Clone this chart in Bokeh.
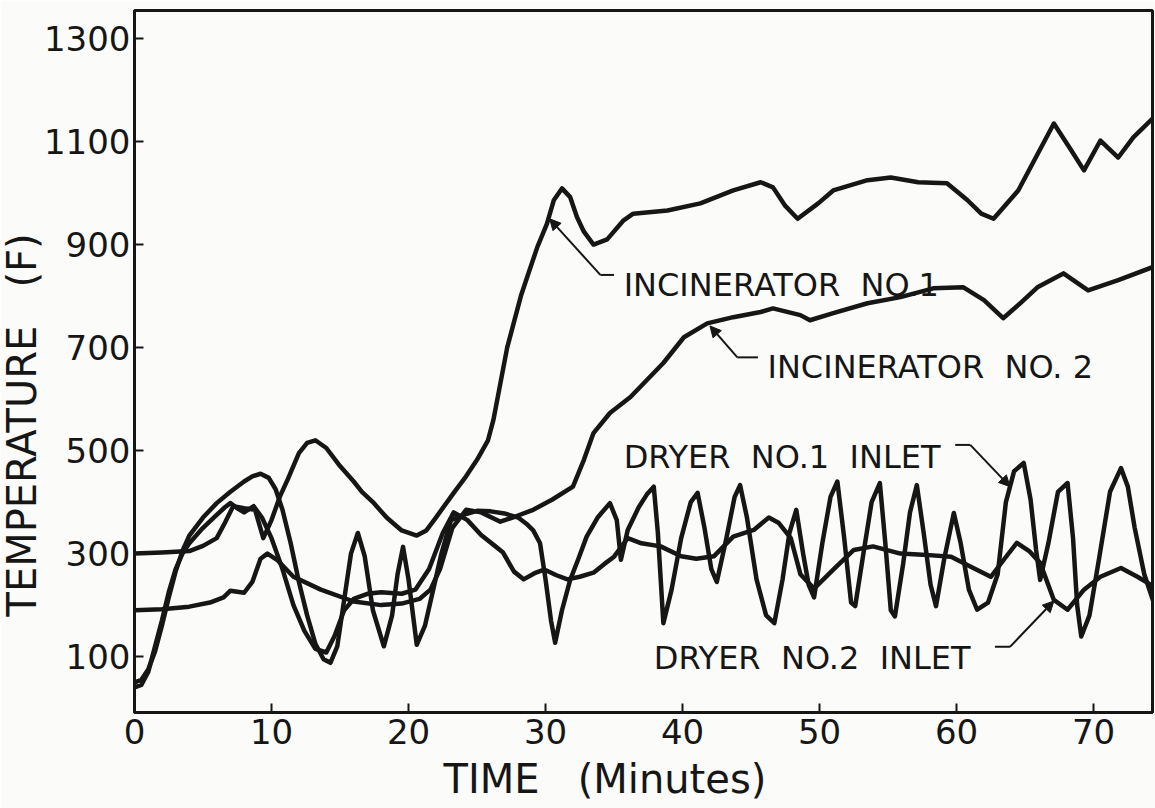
from bokeh.plotting import figure
from bokeh.models import Range1d, FixedTicker, Label, Arrow, NormalHead, Title
from bokeh.embed import file_html
from bokeh.resources import INLINE

# ---------------- data ----------------
x_ticks = [0, 10, 20, 30, 40, 50, 60, 70]
y_ticks = [100, 300, 500, 700, 900, 1100, 1300]

inc1_min = [0, 2, 4, 5, 6, 6.6, 7.2, 8, 8.8, 9.4, 10, 10.6, 11.2, 12, 12.6, 13.2, 14, 15, 16, 16.6,
            17.4, 18.4, 19.5, 20.6, 21.3, 22, 23.3, 24.2, 25, 25.8, 26.2, 26.7, 27.2, 27.7, 28.2, 28.7,
            29.4, 30.1, 30.6, 31.2, 31.8, 32.3, 32.8, 33.5, 34.5, 35.7, 36.4, 38.9, 41.3, 43.7, 45.7,
            46.6, 47.5, 48.4, 49.9, 51, 53.5, 55.2, 57.2, 59.3, 60.8, 61.8, 62.7, 64.5, 65.8, 67.1,
            68.2, 69.3, 70.5, 71.8, 72.9, 74.4]
inc1_temp = [300, 302, 305, 315, 330, 360, 392, 388, 385, 330, 365, 410, 445, 495, 515, 520, 505, 470,
             440, 420, 400, 370, 345, 335, 345, 370, 418, 450, 482, 520, 560, 630, 700, 750, 800, 840,
             895, 940, 986, 1009, 992, 953, 925, 900, 910, 947, 960, 966, 980, 1005, 1021, 1011, 975,
             950, 980, 1005, 1025, 1030, 1021, 1019, 986, 960, 950, 1005, 1070, 1135, 1090, 1044,
             1102, 1069, 1108, 1147]

inc2_min = [0, 2, 4, 5.5, 6.5, 7, 8, 8.6, 9.2, 9.7, 10.4, 11.6, 13.6, 16, 18, 19.5, 20.8, 21.6, 22.3,
            23.2, 24.2, 25.3, 26.7, 27.8, 29.1, 30.5, 32, 32.8, 33.5, 34.7, 36.2, 37.4, 38.6, 40.1,
            41.8, 43.7, 45.7, 46.6, 48.6, 49.3, 51, 53.5, 55.9, 58.3, 60.5, 62, 63.4, 64.6, 65.9,
            67.8, 69.6, 71.8, 74.3]
inc2_temp = [190, 192, 197, 205, 215, 228, 224, 245, 290, 300, 288, 255, 230, 207, 200, 203, 212, 230,
             270, 350, 385, 380, 362, 372, 385, 405, 430, 482, 534, 573, 604, 637, 670, 720, 747, 759,
             769, 776, 763, 753, 767, 786, 798, 815, 817, 792, 757, 785, 817, 844, 811, 831, 856]

dry1_min = [0, 0.5, 1, 1.5, 2, 2.5, 3, 3.5, 4, 5,
            6, 7, 8, 8.6, 9.2, 9.8, 10.3, 10.8, 11.4, 12,
            12.6, 13.2, 13.8, 14.3, 14.8, 15.3, 15.8, 16.3, 16.8, 17.4,
            18.2, 18.8, 19.2, 19.6, 20, 20.6, 21.2, 21.8, 22.4, 23.1,
            24, 25, 26, 27, 28, 28.6, 29.1, 29.6, 30, 30.4,
            30.7, 31.2, 31.8, 32.4, 33, 33.8, 34.7, 35.2, 35.5, 36,
            36.8, 37.4, 37.9, 38.2, 38.6, 39.2, 39.9, 40.6, 41.1, 41.6,
            42.1, 42.5, 43.2, 43.8, 44.2, 44.7, 45.4, 46.1, 46.7, 47.3,
            47.8, 48.3, 48.8, 49.2, 49.6, 50.2, 50.8, 51.3, 51.8, 52.3,
            52.6, 53.2, 53.8, 54.4, 54.8, 55.2, 55.5, 56.1, 56.6, 57.1,
            57.6, 58.1, 58.5, 59.1, 59.8, 60.3, 60.9, 61.5, 62.3, 63,
            63.6, 64.2, 64.9, 65.4, 65.8, 66.1, 66.7, 67.4, 68.1, 68.5,
            68.8, 69.1, 69.7, 70.4, 71.2, 72, 72.5, 73, 73.7, 74.4]
dry1_temp = [50, 55, 75, 110, 160, 215, 265, 305, 335, 370,
             398, 420, 440, 450, 455, 447, 425, 385, 320, 245,
             180, 125, 95, 88, 120, 210, 300, 340, 295, 190,
             120, 180, 260, 313, 250, 123, 160, 230, 300, 365,
             375, 383, 382, 378, 370, 358, 345, 320, 250, 170,
             127, 190, 249, 290, 333, 370, 398, 365, 288, 346,
             390, 415, 430, 340, 165, 230, 330, 400, 418, 350,
             270, 245, 330, 410, 433, 370, 250, 180, 165, 250,
             340, 385, 300, 240, 215, 320, 410, 440, 330, 205,
             198, 300, 400, 437, 320, 190, 178, 280, 380, 433,
             340, 240, 198, 290, 379, 320, 230, 191, 205, 260,
             400, 460, 476, 405, 308, 249, 320, 420, 437, 330,
             200, 139, 180, 290, 420, 466, 430, 350, 260, 204]

dry2_min = [0, 0.5, 1, 1.5, 2, 2.5, 3, 3.5, 4, 5,
            6, 6.6, 7, 7.5, 8, 8.7, 9.3, 10, 10.8, 11.6,
            12.4, 13.2, 14, 14.6, 15.3, 16, 17, 18, 19.5, 20.5,
            21.5, 22.5, 23.3, 24.3, 25.3, 26.3, 26.9, 27.7, 28.4, 29.2,
            29.9, 30.8, 31.6, 32.5, 33.5, 34.3, 35, 36, 37, 38.4,
            39.9, 41, 42.3, 43.7, 45.2, 46.3, 47, 47.9, 48.6, 49.6,
            51, 52.5, 53.9, 55.9, 57.5, 59.6, 61, 62.5, 63.5, 64.4,
            65.3, 66.1, 67.1, 68.1, 69.3, 70.5, 72, 73.2, 74.4]
dry2_temp = [40, 45, 70, 120, 170, 225, 270, 300, 320, 350,
             375, 390, 398, 388, 380, 392, 370, 330, 270, 200,
             150, 115, 108, 140, 190, 212, 222, 225, 222, 230,
             270, 340, 380, 365, 336, 315, 302, 265, 250, 262,
             269, 258, 250, 255, 263, 280, 294, 330, 320, 314,
             295, 290, 295, 333, 346, 370, 360, 330, 260, 232,
             269, 307, 314, 300, 298, 294, 275, 255, 290, 321,
             305, 282, 210, 191, 230, 255, 272, 255, 236]

NB = "\u00a0"
# callout texts and anchors (minutes, temperature)
ann_text = ["INCINERATOR" + NB * 2 + "NO.1", "INCINERATOR" + NB * 2 + "NO." + NB + "2",
            "DRYER" + NB * 2 + "NO.1" + NB * 2 + "INLET", "DRYER" + NB * 2 + "NO.2" + NB * 2 + "INLET"]
ann_x = [35.7, 46.2, 35.7, 37.9]
ann_y = [821, 662, 488, 98]
lead_start_x = [35.0, 45.5, 59.9, 62.8]
lead_corner_x = [34.0, 44.0, 61.0, 63.9]
lead_y = [841, 681, 511, 119]
tip_x = [30.3, 42.0, 63.9, 67.1]
tip_y = [950, 742, 430, 208]

x_title = "TIME" + NB * 3 + "(Minutes)"
y_title = "TEMPERATURE" + NB * 3 + "(F)"

# ---------------- figure ----------------
INK = "#161616"
BG = "#fbfbf9"
FONT = "DejaVu Sans"

p = figure(width=1155, height=808, output_backend="svg", toolbar_location=None, title=None,
           x_range=Range1d(0, 74.3), y_range=Range1d(-8.5, 1354.4),
           min_border_left=134, min_border_right=3, min_border_top=10, min_border_bottom=95)
p.background_fill_color = BG
p.border_fill_color = BG
p.outline_line_color = INK
p.outline_line_width = 3
p.xgrid.visible = False
p.ygrid.visible = False

for ax, ticks, standoff in ((p.xaxis, x_ticks, 6), (p.yaxis, y_ticks, 4)):
    ax.ticker = FixedTicker(ticks=ticks)
    ax.major_tick_in = 9
    ax.major_tick_out = 0
    ax.minor_tick_line_color = None
    ax.axis_line_width = 3
    ax.axis_line_color = INK
    ax.major_tick_line_width = 2
    ax.major_tick_line_color = INK
    ax.major_label_text_font = FONT
    ax.major_label_text_font_size = "34px"
    ax.major_label_text_color = INK
    ax.major_label_standoff = standoff

for xs, ys in ((inc1_min, inc1_temp), (inc2_min, inc2_temp), (dry1_min, dry1_temp), (dry2_min, dry2_temp)):
    p.line(xs, ys, line_width=4.5, line_color=INK, line_join="round", line_cap="round")

for i in range(len(ann_text)):
    p.add_layout(Label(x=ann_x[i], y=ann_y[i], text=ann_text[i], text_font=FONT,
                       text_font_size="32px", text_color=INK, text_align="left",
                       text_baseline="alphabetic"))
    p.line([lead_start_x[i], lead_corner_x[i]], [lead_y[i], lead_y[i]], line_width=2, line_color=INK)
    p.add_layout(Arrow(end=NormalHead(size=11, fill_color=INK, line_color=INK, line_width=1),
                       x_start=lead_corner_x[i], y_start=lead_y[i], x_end=tip_x[i], y_end=tip_y[i],
                       line_width=2, line_color=INK))

p.add_layout(Title(text=x_title, align="left", offset=309, standoff=14, text_font=FONT,
                   text_font_size="40px", text_font_style="normal", text_color=INK), "below")
p.add_layout(Title(text=y_title, align="left", offset=96, standoff=-8, text_font=FONT,
                   text_font_size="40px", text_font_style="normal", text_color=INK), "left")

open("out.html", "w").write(file_html(p, INLINE))
